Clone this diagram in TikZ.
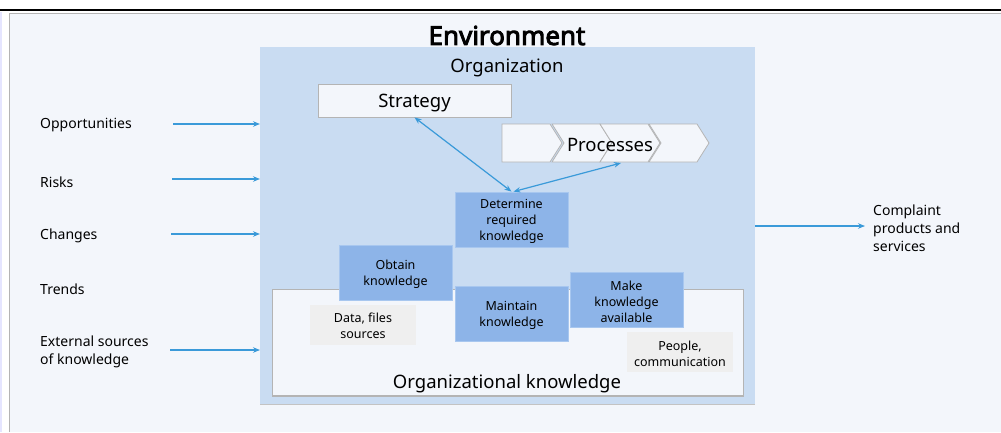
\documentclass[tikz,border=0pt]{standalone}
\usepackage{fontspec}
\setmainfont{Noto Sans}[AutoFakeBold=3.5]
\usetikzlibrary{arrows.meta,calc}
\definecolor{bgc}{HTML}{F3F6FB}
\definecolor{orgc}{HTML}{C9DCF2}
\definecolor{bluebox}{HTML}{8DB4E8}
\definecolor{blueedge}{HTML}{A8C7EF}
\definecolor{grayfill}{HTML}{EFEFEF}
\definecolor{edgegray}{HTML}{B4B4B4}
\definecolor{arrowc}{HTML}{3A9AD9}
\tikzset{
  lbl/.style={anchor=west,align=left,inner sep=0pt,font=\fontsize{14}{18}\selectfont,text=black},
  bluestep/.style={fill=bluebox,draw=blueedge,line width=0.8pt,minimum width=113pt,minimum height=55pt,align=center,inner sep=1pt,font=\fontsize{12.5}{16}\selectfont,text=black},
  grayboxs/.style={fill=grayfill,draw=none,minimum width=106pt,minimum height=40pt,align=center,inner sep=1pt,font=\fontsize{12.5}{16}\selectfont,text=black},
  whitebox/.style={fill=bgc,draw=edgegray,line width=0.8pt},
  flow/.style={draw=arrowc,line width=1.2pt,-{Stealth[length=7pt,width=5.5pt]}},
  flow2/.style={draw=arrowc,line width=1.2pt,{Stealth[length=7pt,width=5.5pt]}-{Stealth[length=7pt,width=5.5pt]}},
  title/.style={font=\fontsize{18.5}{22}\selectfont,inner sep=0pt,text=black},
}
\begin{document}
\begin{tikzpicture}[x=1pt,y=-1pt]
\useasboundingbox (0,0) rectangle (1001,432);
% background frame
\fill[white] (0,0) rectangle (1001,432);
\fill[bgc] (9,13) rectangle (1001,432);
\fill[blue!10] (0,12) rectangle (1.5,432);
\draw[edgegray,line width=1.2pt] (9.5,432) -- (9.5,13.5) -- (1001,13.5);
\draw[black,line width=2.6pt] (0,10) -- (1001,10);
% title
\node[font=\bfseries\fontsize{26}{28}\selectfont,inner sep=0pt] (env) at (507,35.5) {Environment};
% organization box
\fill[orgc] (260,47) rectangle (755,404);
\draw[edgegray!80,line width=1.2pt] (260,404.5) -- (755,404.5);
\node[title] (org) at (507,67.5) {Organization};
% organizational knowledge box
\draw[whitebox] (272,289.5) rectangle (743,396);
\draw[edgegray,line width=1.5pt] (272,396) -- (743,396);
\node[title] (ok) at (507,383.5) {Organizational knowledge};
% strategy
\node[whitebox,minimum width=193pt,minimum height=33pt,inner sep=0pt] (strategy) at (414.5,100.5) {};
\node[title] (strattext) at (414.5,103) {Strategy};
% processes chevrons
\foreach \x [count=\i] in {552,600,649}{
  \draw[whitebox] (\x,124) -- ++(48,0) -- ++(12,19) -- ++(-12,19) -- ++(-48,0) -- ++(12,-19) -- cycle;
}
\draw[whitebox] (502,124) -- (550,124) -- (562,143) -- (550,162) -- (502,162) -- cycle;
\node[title] (proc) at (610,144.5) {Processes};
\coordinate (procpt) at (621,163);
% gray boxes
\node[grayboxs] (data) at (363,324.5) {};
\node[grayboxs,fill=none] (datatext) at (363,326) {Data, files\\sources};
\node[grayboxs] (people) at (680,352) {};
\node[grayboxs,fill=none] (peopletext) at (680,353.5) {People,\\communication};
% blue boxes
\node[bluestep] (det) at (511.5,219.5) {};
\node[bluestep,fill=none,draw=none] (dettext) at (511.5,221) {Determine\\required\\knowledge};
\node[bluestep] (obt) at (395.5,272.5) {};
\node[bluestep,fill=none,draw=none] (obttext) at (395.5,274) {Obtain\\knowledge};
\node[bluestep] (mnt) at (511.5,313.5) {};
\node[bluestep,fill=none,draw=none] (mnttext) at (511.5,315) {Maintain\\knowledge};
\node[bluestep] (make) at (626.5,300) {};
\node[bluestep,fill=none,draw=none] (maketext) at (626.5,301.5) {Make\\knowledge\\available};
% internal arrows
\draw[flow2] (strategy.south) -- (det.north);
\draw[flow2] ([xshift=2pt]det.north) -- (procpt);
% left labels
\node[lbl] (opp) at (40,125) {Opportunities};
\node[lbl] (risk) at (40,182) {Risks};
\node[lbl] (chg) at (40,236) {Changes};
\node[lbl] (trd) at (40,289) {Trends};
\node[lbl] (ext) at (40,352) {External sources\\of knowledge};
\coordinate (a1) at (173,124); \coordinate (b1) at (260,124);
\coordinate (a2) at (172,179); \coordinate (b2) at (260,179);
\coordinate (a3) at (171,234); \coordinate (b3) at (260,234);
\coordinate (a4) at (170,350); \coordinate (b4) at (260,350);
\draw[flow] (a1) -- (b1);
\draw[flow] (a2) -- (b2);
\draw[flow] (a3) -- (b3);
\draw[flow] (a4) -- (b4);
% output
\node[lbl] (out) at (873,228) {Complaint\\products and\\services};
\coordinate (c1) at (755,226);
\coordinate (c2) at (865,226);
\draw[flow] (c1) -- (c2);
\end{tikzpicture}
\end{document}
